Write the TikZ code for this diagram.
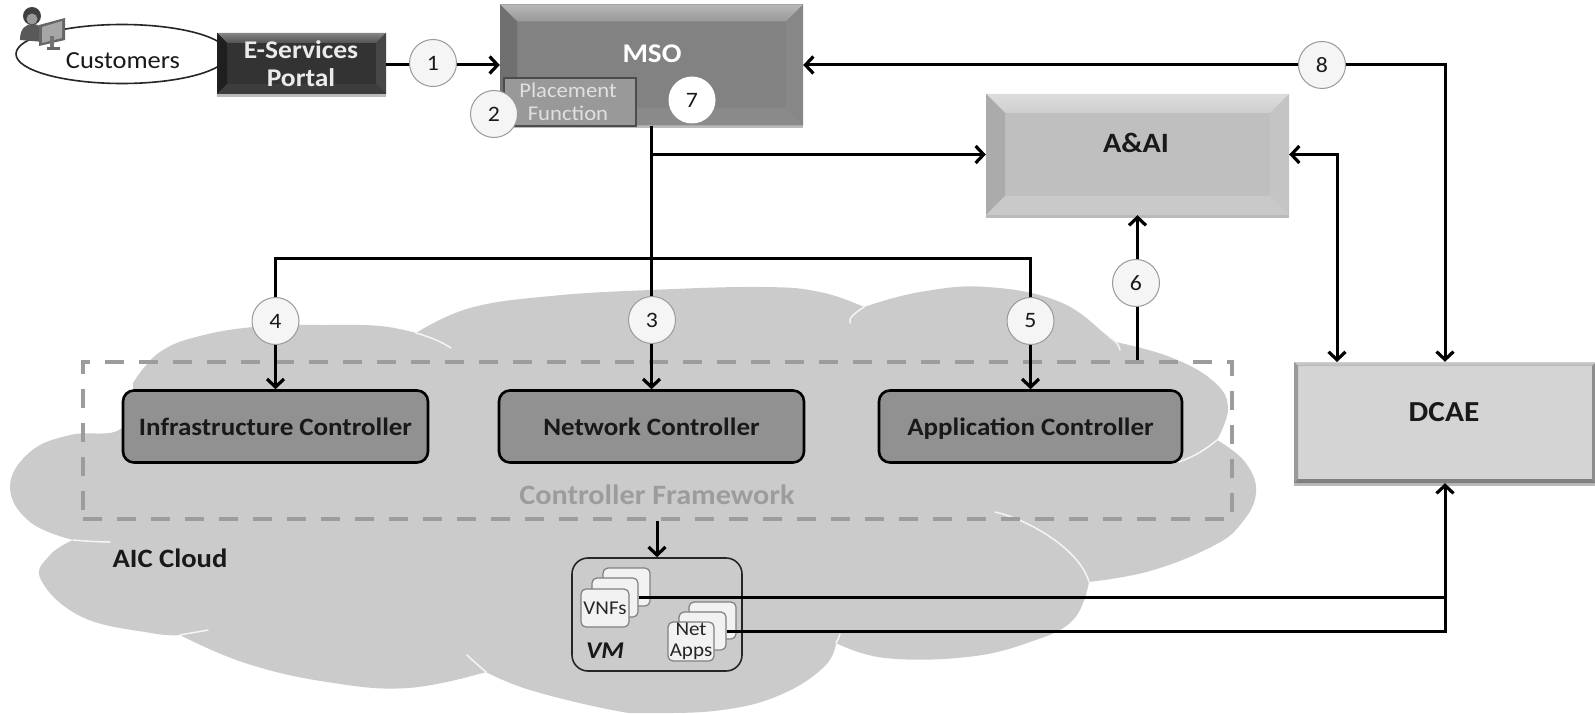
\documentclass[tikz,border=0pt]{standalone}
\usepackage{fontspec}
\setmainfont[FakeStretch=1.08]{Carlito}
\usetikzlibrary{arrows.meta,shapes.geometric,shadows,calc}
\definecolor{cloudg}{HTML}{CBCBCB}
\definecolor{dashg}{HTML}{9C9C9C}
\newcommand{\fs}[1]{\fontsize{#1}{#1}\selectfont}
\tikzset{
  x=1pt,y=-1pt,
  conn/.style={draw=black,line width=3pt,line cap=butt},
  arr/.style={-{Straight Barb[length=8pt,width=17pt,line width=3.2pt]}},
  darr/.style={{Straight Barb[length=8pt,width=17pt,line width=3.2pt]}-{Straight Barb[length=8pt,width=17pt,line width=3.2pt]}},
  num/.style={circle,draw=black!40,line width=1pt,fill=black!4,minimum size=47pt,inner sep=0pt,text=black!90,font=\fs{22}},
  ctrl/.style={rectangle,rounded corners=11pt,draw=black,line width=2.6pt,fill=black!43,minimum height=72pt,inner sep=0pt,text height=21pt,text depth=4pt,font=\bfseries\fs{25},text=black!90},
  card/.style={rectangle,rounded corners=5pt,draw=black!50,line width=1.2pt,fill=black!5,inner sep=0pt,text=black!85},
  lbl/.style={inner sep=0pt,align=center},
  seam/.style={draw=white!96!black,line width=1.5pt,line cap=round},
  bevel/.style n args={7}{rectangle,inner sep=0pt,fill=#1,minimum width=#6,minimum height=#7,
    drop shadow={shadow xshift=0pt,shadow yshift=-3pt,fill=black!45,opacity=.6},
    path picture={
      \colorlet{bt}{#2}
      \coordinate (PA) at (path picture bounding box.north west);
      \coordinate (PB) at (path picture bounding box.north east);
      \coordinate (PC) at (path picture bounding box.south east);
      \coordinate (PD) at (path picture bounding box.south west);
      \shade[top color=bt!70!white,bottom color=bt] (PA)--(PB)--([shift={(-\bw,\bw)}]PB)--([shift={(\bw,\bw)}]PA)--cycle;
      \fill[#3] (PA)--([shift={(\bw,\bw)}]PA)--([shift={(\bw,-\bw)}]PD)--(PD)--cycle;
      \fill[#4] (PB)--([shift={(-\bw,\bw)}]PB)--([shift={(-\bw,-\bw)}]PC)--(PC)--cycle;
      \fill[#5] (PD)--([shift={(\bw,-\bw)}]PD)--([shift={(-\bw,-\bw)}]PC)--(PC)--cycle;
    }},
}
\begin{document}
\begin{tikzpicture}
\useasboundingbox (0,0) rectangle (1595,714);
\fill[white] (0,0) rectangle (1595,714);
% cloud
\fill[cloudg] plot[smooth,tension=.7] coordinates {(133,383)(160,352)(204,335)(265,326)(327,325)(380,326)(416,333)}
  -- plot[smooth,tension=.7] coordinates {(416,333)(470,308)(551,296)(650,290)(762,287)(820,292)(864,307)}
  -- plot[smooth,tension=.7] coordinates {(864,307)(920,292)(987,287)(1060,302)(1109,337)(1120,343)}
  -- plot[smooth,tension=.7] coordinates {(1120,343)(1170,357)(1212,380)(1228,407)(1217,440)}
  -- plot[smooth,tension=.7] coordinates {(1217,440)(1245,462)(1256,493)(1240,525)(1211,547)(1150,571)(1089,582)}
  -- plot[smooth,tension=.7] coordinates {(1089,582)(1073,620)(1030,642)(967,657)(885,658)(836,643)}
  -- plot[smooth,tension=.7] coordinates {(836,643)(824,667)(780,695)(722,710)(650,713)(612,710)(530,690)(486,672)}
  -- plot[smooth,tension=.7] coordinates {(486,672)(408,688)(327,682)(245,663)(180,635)}
  -- plot[smooth,tension=.7] coordinates {(180,635)(151,633)(82,617)(41,580)(50,555)(73,540)}
  -- plot[smooth,tension=.7] coordinates {(73,540)(30,522)(10,487)(30,452)(70,435)(122,428)(133,383)}
  -- cycle;
\draw[seam] (416,333) .. controls (430,337) and (442,342) .. (451,348);
\draw[seam] (864,307) .. controls (855,313) and (848,318) .. (850,323);
\draw[seam] (1109,337) .. controls (1115,340) and (1119,345) .. (1120,350);
\draw[seam] (1217,440) .. controls (1205,450) and (1195,456) .. (1179,462);
\draw[seam] (995,512) .. controls (1030,520) and (1080,550) .. (1089,582);
\draw[seam] (486,672) .. controls (478,665) and (472,660) .. (467,655);
\draw[seam] (180,635) .. controls (190,633) and (198,632) .. (208,630);
\draw[seam] (73,540) .. controls (85,541) and (98,542) .. (110,542);
\draw[seam] (836,643) .. controls (838,640) and (839,637) .. (840,634);
% framework
\node[rectangle,draw=dashg,line width=3.6pt,dash pattern=on 19pt off 15pt,minimum width=1149pt,minimum height=157pt,inner sep=0pt] (fw) at (657.5,440.5) {};
\node[lbl,text=dashg,font=\bfseries\fs{28}] (fwt) at (657,495) {Controller Framework};
\node[lbl,font=\bfseries\fs{26.5},text=black!90] (aic) at (170,558) {AIC Cloud};
% customers
\node[ellipse,draw=black!85,line width=1.6pt,fill=white,minimum width=212pt,minimum height=59pt,inner sep=0pt] (cust) at (122,54) {};
\node[lbl,font=\fs{24.5},text=black!90] (custt) at (123,61) {Customers};
% person icon
\fill[black!65] (20,40) .. controls (20,28) and (26,24) .. (33,24) .. controls (40,24) and (44,28) .. (44,42) -- (20,40) -- cycle;
\fill[black!75] (32,16) circle[radius=9pt];
\fill[black!40] (32,19) circle[radius=5.5pt];
\fill[black!60] (39,25) -- (65,18) -- (65,40) -- (39,46) -- cycle;
\fill[black!35] (42,27) -- (62,21) -- (62,38) -- (42,43) -- cycle;
\fill[black!55] (50,36) rectangle (54,48);
\fill[black!60] (47,47) rectangle (60,50);
% bevel boxes
\def\bw{10}
\node[bevel={black!80}{black!68}{black!88}{black!72}{black!76}{169pt}{61pt}] (portal) at (301.5,63.5) {};
\node[lbl,font=\bfseries\fs{25.5},text=black!8] (portalt) at (301,63.5) {E-Services\\[3pt]Portal};
\def\bw{17}
\node[bevel={black!49}{black!40}{black!56}{black!47}{black!46}{303pt}{121pt}] (mso) at (651.5,65) {};
\node[lbl,font=\bfseries\fs{27},text=white] (msot) at (652,54) {MSO};
\def\bw{19}
\node[bevel={black!25}{black!19}{black!33}{black!23}{black!21}{303pt}{121pt}] (aai) at (1137.5,154.5) {};
\node[lbl,font=\bfseries\fs{28},text=black!90] (aait) at (1136,143) {A\&AI};
\def\bw{4}
\node[bevel={black!17}{black!28}{black!40}{black!45}{black!50}{302pt}{121pt}] (dcae) at (1445,422.5) {};
\node[lbl,font=\bfseries\fs{29},text=black!90] (dcaet) at (1444,412) {DCAE};
% placement
\node[rectangle,draw=black!70,line width=2pt,fill=black!40,minimum width=132pt,minimum height=48pt,inner sep=0pt] (place) at (569.5,102.5) {};
\node[lbl,font=\fs{21},text=black!12] (placet) at (568,102) {Placement\\[2pt]Function};
% controllers
\node[ctrl,minimum width=305pt] (infra) at (275.5,426.5) {Infrastructure Controller};
\node[ctrl,minimum width=305pt] (netc) at (651.5,426.5) {Network Controller};
\node[ctrl,minimum width=303pt] (appc) at (1030.5,426.5) {Application Controller};
% VM
\node[rectangle,rounded corners=16pt,draw=black!85,line width=1.6pt,minimum width=170pt,minimum height=113pt,inner sep=0pt] (vm) at (657,614.5) {};
\node[lbl,font=\bfseries\itshape\fs{24},text=black!90] (vmt) at (605,651) {VM};
\node[card,minimum width=47pt,minimum height=38pt] (vnfback) at (626.5,587) {};
\node[card,minimum width=46pt,minimum height=39pt] (vnfmid) at (615,597.5) {};
\node[card,minimum width=48pt,minimum height=38pt,font=\fs{19.5}] (vnffront) at (605,608) {VNFs};
\node[card,minimum width=47pt,minimum height=37pt] (netback) at (712.5,620.5) {};
\node[card,minimum width=47pt,minimum height=38pt] (netmid) at (702.5,631) {};
\node[card,minimum width=46pt,minimum height=39pt,align=center,font=\fs{19.5}] (netfront) at (691,641.5) {Net\\[2pt]Apps};
% connectors
\draw[conn,arr] (portal.east |- mso.west) -- (mso.west);
\draw[conn,darr] (mso.east) -- (dcae.north |- mso.east) -- (dcae.north);
\draw[conn,arr] (mso.south) -- (mso.south |- aai.west) -- (aai.west);
\coordinate (dl) at (1337,362);
\draw[conn,darr] (aai.east) -- (dl |- aai.east) -- (dl);
\draw[conn,arr] (mso.south) -- (netc.north);
\coordinate (bus) at (651.5,258);
\draw[conn,arr] (bus) -- (bus -| infra.north) -- (infra.north);
\draw[conn,arr] (bus) -- (bus -| appc.north) -- (appc.north);
\draw[conn,arr] (aai.south |- fw.north) -- (aai.south);
\draw[conn,arr] (vm.north |- fw.south) -- (vm.north);
\draw[conn] (vnfmid.east) -- (vnfmid.east -| dcae.south);
\draw[conn,arr] (netmid.east) -- (netmid.east -| dcae.south) -- (dcae.south);
% numbered circles
\node[num] (n1) at (433,63) {1};
\node[num] (n2) at (494,114) {2};
\node[num] (n3) at (652,320) {3};
\node[num] (n4) at (275.5,321) {4};
\node[num] (n5) at (1030.5,321) {5};
\node[num] (n6) at (1136,283) {6};
\node[num,draw=none,fill=white] (n7) at (692,100) {7};
\node[num] (n8) at (1322,65) {8};
\end{tikzpicture}
\end{document}
